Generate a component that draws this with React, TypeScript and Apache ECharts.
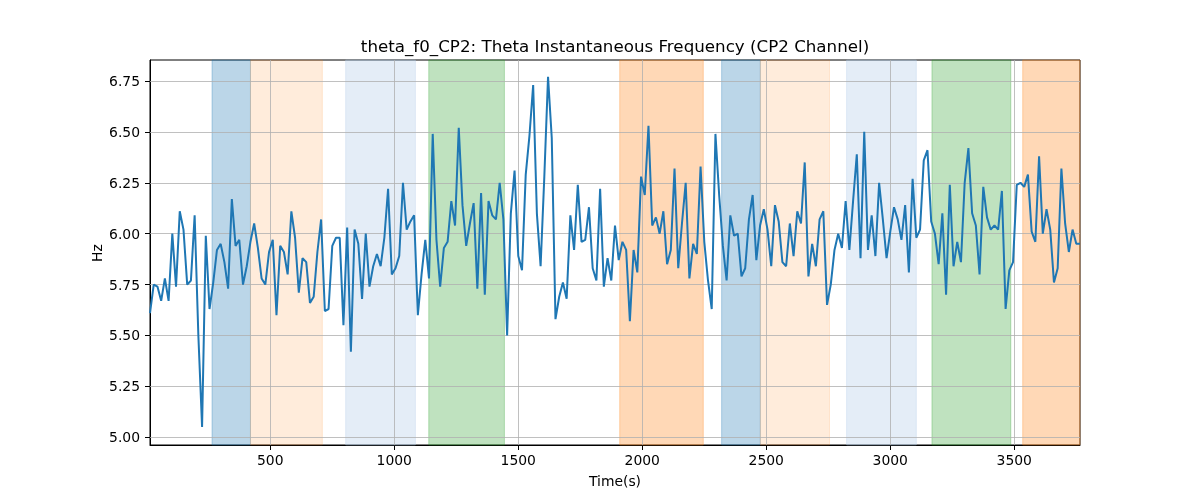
import React, { useEffect, useRef } from "react";
import * as echarts from "echarts";

const TITLE = "theta_f0_CP2: Theta Instantaneous Frequency (CP2 Channel)";
const X_LABEL = "Time(s)";
const Y_LABEL = "Hz";

// sampling grid of the series (seconds)
const T_START = 15;
const T_STEP = 15;

const freqValues = [
  5.61, 5.75, 5.74, 5.67, 5.78, 5.67, 6.0, 5.74, 6.11, 6.02,
  5.75, 5.77, 6.09, 5.5, 5.05, 5.99, 5.63, 5.76, 5.92, 5.95,
  5.86, 5.73, 6.17, 5.94, 5.97, 5.75, 5.84, 5.96, 6.05, 5.93,
  5.78, 5.75, 5.91, 5.97, 5.6, 5.94,
  5.91, 5.8, 6.11, 5.98, 5.71, 5.88, 5.86, 5.66, 5.69, 5.91,
  6.07, 5.62, 5.63, 5.94, 5.98, 5.98, 5.55, 6.03, 5.42, 6.02,
  5.95, 5.68, 6.0, 5.74, 5.84, 5.9, 5.84, 5.98, 6.22, 5.8,
  5.83, 5.89, 6.25, 6.02, 6.06, 6.09, 5.6,
  5.8, 5.97, 5.78, 6.49, 5.97, 5.74, 5.93, 5.96, 6.16, 6.04,
  6.52, 6.14, 5.94, 6.05, 6.15, 5.73, 6.2, 5.7, 6.16, 6.09,
  6.07, 6.25, 6.07, 5.5, 6.1, 6.31, 5.89, 5.82, 6.29, 6.48,
  6.73, 6.1, 5.84, 6.28, 6.77,
  6.47, 5.58, 5.69, 5.76, 5.68, 6.09, 5.92, 6.24, 5.96, 5.97,
  6.13, 5.83, 5.77, 6.22, 5.74, 5.88, 5.77, 6.04, 5.87, 5.96,
  5.92, 5.57, 5.92, 5.81, 6.28, 6.19, 6.53, 6.04, 6.08, 6.0,
  6.11, 5.85, 5.92, 6.32,
  5.83, 6.05, 6.25, 5.78, 5.95, 5.9, 6.33, 5.96, 5.77, 5.63,
  6.49, 6.19, 5.94, 5.77, 6.09, 5.99, 6.0, 5.79, 5.83, 6.07,
  6.19, 5.87, 6.04, 6.12, 6.02, 5.84, 6.14, 6.06, 5.86, 5.84,
  6.05, 5.89, 6.11, 6.05, 6.35, 5.79,
  5.95, 5.84, 6.07, 6.11, 5.65, 5.75, 5.92, 6.0, 5.93, 6.16,
  5.92, 6.16, 6.39, 5.88, 6.5, 5.92, 6.09, 5.89, 6.25, 6.07,
  5.88, 6.01, 6.13, 6.07, 5.97, 6.14, 5.81, 6.27, 5.98, 6.02,
  6.36, 6.41, 6.06, 6.0, 5.85,
  6.1, 5.7, 6.24, 5.84, 5.96, 5.86, 6.25, 6.42, 6.1, 6.04,
  5.8, 6.23, 6.08, 6.02, 6.04, 6.02, 6.21, 5.63, 5.82, 5.86,
  6.24, 6.25, 6.23, 6.29, 6.01, 5.96, 6.38, 6.0, 6.12, 6.02,
  5.76, 5.83, 6.32, 6.05, 5.91, 6.02, 5.95, 5.95,
];

const xTicks = [500, 1000, 1500, 2000, 2500, 3000, 3500];
const yTicks = [5.0, 5.25, 5.5, 5.75, 6.0, 6.25, 6.5, 6.75];

const X_MIN = 15;
const X_MAX = 3765;
const Y_MIN = 4.962;
const Y_MAX = 6.853;

const bandStarts = [265, 420, 804, 1139, 1909, 2320, 2476, 2824, 3168, 3534];
const bandEnds = [420, 710, 1085, 1444, 2246, 2476, 2755, 3105, 3486, 3765];
const bandColors = [
  "rgba(31,119,180,0.3)",
  "rgba(255,127,14,0.15)",
  "rgba(174,199,232,0.33)",
  "rgba(44,160,44,0.3)",
  "rgba(255,127,14,0.3)",
  "rgba(31,119,180,0.3)",
  "rgba(255,127,14,0.15)",
  "rgba(174,199,232,0.33)",
  "rgba(44,160,44,0.3)",
  "rgba(255,127,14,0.3)",
];

const FONT = "DejaVu Sans";

export default function App() {
  const ref = useRef<HTMLDivElement>(null);

  useEffect(() => {
    if (!ref.current) return;
    const chart = echarts.init(ref.current, undefined, { renderer: "svg" });

    const lineData = freqValues.map((v, i) => [T_START + i * T_STEP, v]);

    const bandData = bandStarts.map((s, i) => [
      {
        xAxis: s,
        itemStyle: {
          color: bandColors[i],
          borderColor: bandColors[i],
          borderWidth: 1,
        },
      },
      { xAxis: bandEnds[i] },
    ]);

    const gridLines = [
      ...xTicks.map((v) => ({ xAxis: v })),
      ...yTicks.map((v) => ({ yAxis: v })),
    ];

    chart.setOption({
      animation: false,
      grid: {
        left: 150,
        right: 120,
        top: 60,
        bottom: 55,
        show: true,
        borderColor: "#000",
        borderWidth: 1,
        backgroundColor: "transparent",
      },
      xAxis: {
        type: "value",
        min: X_MIN,
        max: X_MAX,
        axisLine: { show: true, lineStyle: { color: "#000", width: 1 } },
        axisTick: {
          show: true,
          length: 5,
          inside: false,
          customValues: xTicks,
          lineStyle: { color: "#000", width: 1 },
        },
        axisLabel: {
          customValues: xTicks,
          color: "#000",
          fontFamily: FONT,
          fontSize: 13.9,
          margin: 8,
          formatter: (v: number) => String(Math.round(v)),
        },
        splitLine: { show: false },
      },
      yAxis: {
        type: "value",
        min: Y_MIN,
        max: Y_MAX,
        axisLine: { show: true, lineStyle: { color: "#000", width: 1 } },
        axisTick: {
          show: true,
          length: 5,
          inside: false,
          customValues: yTicks,
          lineStyle: { color: "#000", width: 1 },
        },
        axisLabel: {
          customValues: yTicks,
          color: "#000",
          fontFamily: FONT,
          fontSize: 13.9,
          margin: 10,
          formatter: (v: number) => v.toFixed(2),
        },
        splitLine: { show: false },
      },
      graphic: [
        {
          type: "text",
          x: 615,
          y: 46,
          style: {
            text: TITLE,
            font: `16.7px "${FONT}"`,
            fill: "#000",
            align: "center",
            verticalAlign: "middle",
          },
        },
        {
          type: "text",
          x: 615,
          y: 480.5,
          style: {
            text: X_LABEL,
            font: `13.9px "${FONT}"`,
            fill: "#000",
            align: "center",
            verticalAlign: "middle",
          },
        },
        {
          type: "text",
          x: 97,
          y: 253,
          rotation: Math.PI / 2,
          style: {
            text: Y_LABEL,
            font: `13.9px "${FONT}"`,
            fill: "#000",
            align: "center",
            verticalAlign: "middle",
          },
        },
      ],
      series: [
        {
          type: "line",
          data: [],
          silent: true,
          z: 1,
          markArea: {
            silent: true,
            z: 1,
            data: bandData,
          },
          markLine: {
            silent: true,
            z: 2,
            symbol: ["none", "none"],
            label: { show: false },
            lineStyle: { type: "solid", color: "#b0b0b0", width: 0.8 },
            emphasis: { disabled: true },
            data: gridLines,
          },
        },
        {
          type: "line",
          data: lineData,
          z: 3,
          showSymbol: false,
          symbol: "none",
          lineStyle: { color: "#1f77b4", width: 2 },
          itemStyle: { color: "#1f77b4" },
          silent: true,
        },
      ],
    });

    return () => chart.dispose();
  }, []);

  return (
    <div
      ref={ref}
      style={{ position: "fixed", left: 0, top: 0, width: 1200, height: 500 }}
    />
  );
}
